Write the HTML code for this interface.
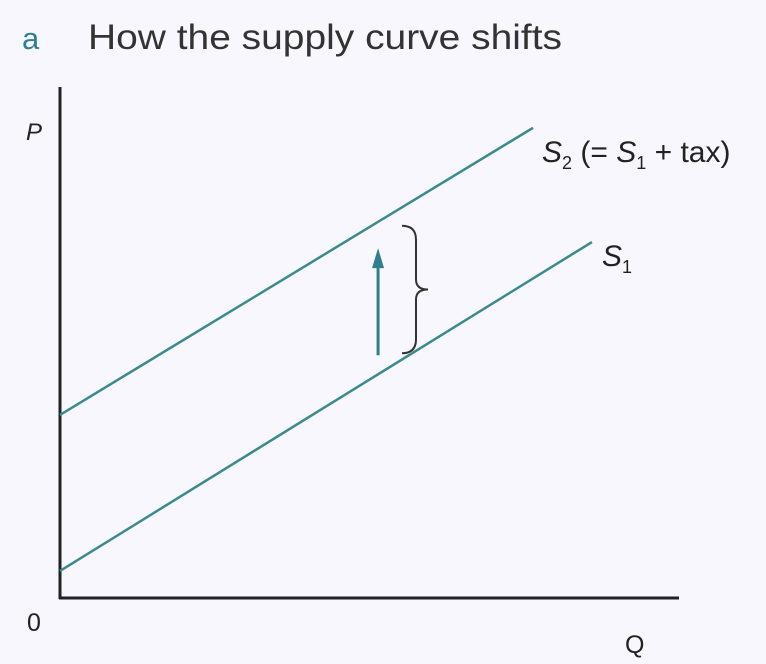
<!DOCTYPE html>
<html><head><meta charset="utf-8"><style>
html,body{margin:0;padding:0;background:#f7f7fd;}
svg{display:block;}
text{font-family:"Liberation Sans",sans-serif;}
</style></head><body>
<svg width="766" height="664" viewBox="0 0 766 664">
<text x="22" y="49" font-size="31" fill="#2f7f8e">a</text>
<text x="88" y="49" font-size="35" fill="#333" textLength="474" lengthAdjust="spacingAndGlyphs">How the supply curve shifts</text>
<g id="plot"></g>
</svg>
<script>
const seriesNames = ["S1", "S2"];
const s1Q = [0, 8.58];
const s1P = [0.53, 6.98];
const s2Q = [0, 7.63];
const s2P = [3.59, 9.22];
const arrowQ = [5.13, 5.13];
const arrowP = [4.76, 6.86];
const braceP = [4.8, 7.3];

const NS = "http://www.w3.org/2000/svg";
const g = document.getElementById("plot");
const xS = q => 60 + q * 62;
const yS = p => 598 - p * 51;
function mk(tag, attrs) {
  const e = document.createElementNS(NS, tag);
  for (const k in attrs) e.setAttribute(k, attrs[k]);
  g.appendChild(e);
  return e;
}
let e;
e = mk("line", {x1: 60, y1: 87, x2: 60, y2: 599, stroke: "#222", "stroke-width": 3});


e = mk("line", {x1: 59, y1: 598, x2: 679, y2: 598, stroke: "#222", "stroke-width": 3});



e = mk("line", {x1: xS(s1Q[0]), y1: yS(s1P[0]), x2: xS(s1Q[1]), y2: yS(s1P[1]), stroke: "#3a8a8f", "stroke-width": 2.5});


e = mk("line", {x1: xS(s2Q[0]), y1: yS(s2P[0]), x2: xS(s2Q[1]), y2: yS(s2P[1]), stroke: "#3a8a8f", "stroke-width": 2.5});



const ax = xS(arrowQ[0]);
e = mk("line", {x1: ax, y1: yS(arrowP[0]), x2: ax, y2: yS(arrowP[1]) + 16, stroke: "#2f7f8e", "stroke-width": 3});


const ty = yS(arrowP[1]);
e = mk("polygon", {points: `${ax},${ty} ${ax-6},${ty+20} ${ax+6},${ty+20}`, fill: "#2f7f8e"});



const by1 = yS(braceP[1]), by2 = yS(braceP[0]), bm = (by1 + by2) / 2, bx = 402;
e = mk("path", {d: `M${bx},${by1} Q${bx+14},${by1} ${bx+14},${by1+14} L${bx+14},${bm-10} Q${bx+14},${bm} ${bx+26},${bm} Q${bx+14},${bm} ${bx+14},${bm+10} L${bx+14},${by2-14} Q${bx+14},${by2} ${bx},${by2}`, fill: "none", stroke: "#333", "stroke-width": 2});


</script>
<svg width="766" height="664" style="position:absolute;left:0;top:0">
<text x="26" y="140" font-size="24" font-style="italic" fill="#222">P</text>
<text x="27" y="631" font-size="25" fill="#222">0</text>
<text x="625" y="653" font-size="25" fill="#222">Q</text>
<text x="542" y="162" font-size="30" fill="#222"><tspan font-style="italic">S</tspan><tspan font-size="18" dy="7">2</tspan><tspan dy="-7"> (= </tspan><tspan font-style="italic">S</tspan><tspan font-size="18" dy="7">1</tspan><tspan dy="-7"> + tax)</tspan></text>
<text x="602" y="266" font-size="30" font-style="italic" fill="#222">S<tspan font-size="18" font-style="normal" dy="7">1</tspan></text>
</svg>
</body></html>
